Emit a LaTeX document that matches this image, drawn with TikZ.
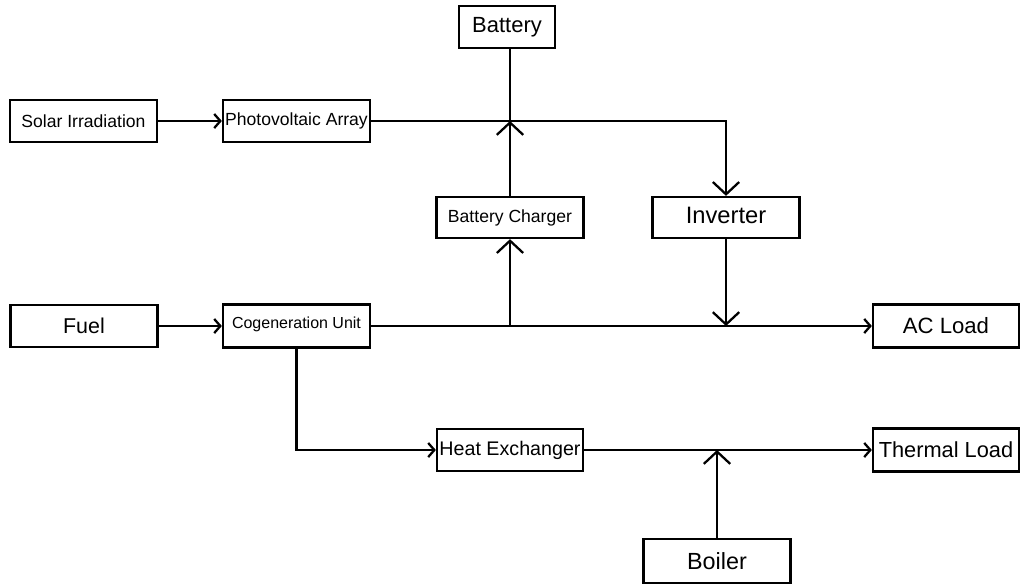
\documentclass[tikz,border=0pt]{standalone}
\usepackage{fontspec}
\setmainfont{Liberation Sans}
\usetikzlibrary{arrows.meta}

\tikzset{
  block/.style={draw, line width=1.3pt, inner sep=0pt, minimum width=2.94cm, minimum height=0.84cm},
  flow/.style={line width=1.3pt},
  smalltip/.style={flow, -{Straight Barb[length=3.5pt,width=8pt]}},
  bigtip/.style={flow, -{Straight Barb[length=7pt,width=15pt]}}
}

\begin{document}
\begin{tikzpicture}[x=0.02cm, y=-0.02cm]
\useasboundingbox (0,0) rectangle (1020,585);

% electrical side
\node[block, font=\fontsize{10}{12}\selectfont] (solar) at (83.5,121) {Solar Irradiation};
\node[block, font=\fontsize{10}{12}\selectfont] (pv) at (296.5,121) {Photovoltaic Array};
\node[block, minimum width=1.92cm, font=\fontsize{12.5}{15}\selectfont] (battery) at (507,27) {Battery};
\node[block, minimum height=0.82cm, font=\fontsize{10}{12}\selectfont] (charger) at (510,217.5) {Battery Charger};
\node[block, minimum height=0.82cm, font=\fontsize{13.5}{16}\selectfont] (inverter) at (726,217.5) {\raisebox{3pt}{Inverter}};

% cogeneration side
\node[block, font=\fontsize{12.2}{14}\selectfont] (fuel) at (84,326) {Fuel};
\node[block, minimum height=0.86cm, font=\fontsize{9.1}{11}\selectfont] (cogen) at (296.5,326) {\raisebox{4pt}{Cogeneration Unit}};
\node[block, minimum width=2.92cm, minimum height=0.86cm, font=\fontsize{12.6}{15}\selectfont] (acload) at (946,326) {AC Load};
\node[block, minimum width=2.92cm, font=\fontsize{11.2}{13}\selectfont] (hx) at (510,450) {Heat Exchanger};
\node[block, minimum width=2.92cm, minimum height=0.86cm, font=\fontsize{12.4}{15}\selectfont] (thermal) at (946,450) {Thermal Load};
\node[block, minimum height=0.88cm, font=\fontsize{13.3}{16}\selectfont] (boiler) at (717,561) {Boiler};

% junctions
\coordinate (jbat) at (charger.north |- pv.east);
\coordinate (jchg) at (charger.south |- cogen.east);
\coordinate (jinv) at (inverter.south |- cogen.east);
\coordinate (jboil) at (boiler.north |- hx.east);

% connectors
\draw[smalltip] (solar.east) -- (pv.west);
\draw[bigtip] (pv.east) -| (inverter.north);
\draw[bigtip] (charger.north) -- (jbat);
\draw[flow] (jbat) -- (jbat |- battery.south);
\draw[smalltip] (fuel.east) -- (cogen.west);
\draw[smalltip] (cogen.east) -- (acload.west);
\draw[bigtip] (jchg) -- (charger.south);
\draw[bigtip] (inverter.south) -- (jinv);
\draw[smalltip] (cogen.south) |- (hx.west);
\draw[smalltip] (hx.east) -- (thermal.west);
\draw[bigtip] (boiler.north) -- (jboil);
\end{tikzpicture}
\end{document}
